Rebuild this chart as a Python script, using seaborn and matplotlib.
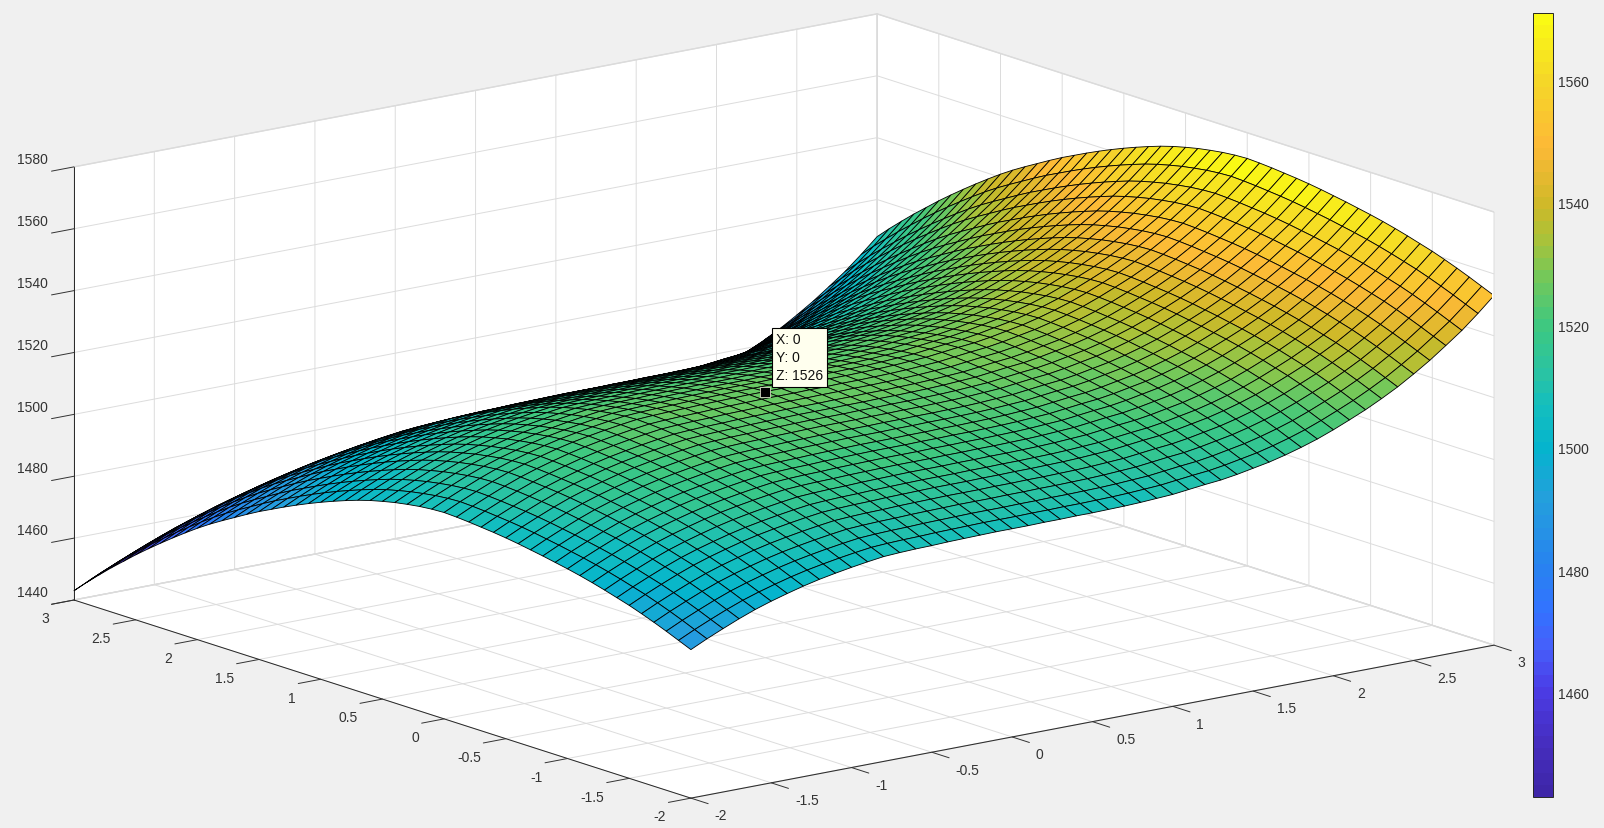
import numpy as np
import seaborn as sns
import matplotlib.pyplot as plt
from matplotlib.colors import LinearSegmentedColormap, Normalize
from matplotlib.cm import ScalarMappable
from mpl_toolkits.mplot3d import proj3d

# mesh nodes, one every 0.1
x_nodes = [-2.0, -1.9, -1.8, -1.7, -1.6, -1.5, -1.4, -1.3, -1.2, -1.1, -1.0, -0.9, -0.8, -0.7, -0.6, -0.5, -0.4,
           -0.3, -0.2, -0.1, 0.0, 0.1, 0.2, 0.3, 0.4, 0.5, 0.6, 0.7, 0.8, 0.9, 1.0, 1.1, 1.2, 1.3, 1.4, 1.5, 1.6,
           1.7, 1.8, 1.9, 2.0, 2.1, 2.2, 2.3, 2.4, 2.5, 2.6, 2.7, 2.8, 2.9, 3.0]
y_nodes = x_nodes

# z read along the front edge (y = -2), from x = -2 to x = 3
z_front_edge = [1488.0, 1490.5, 1492.8, 1495.0, 1497.0, 1498.7, 1500.2, 1501.6, 1502.8, 1503.8, 1504.7,
                1505.5, 1506.2, 1506.5, 1506.7, 1506.8, 1507.0, 1507.1, 1507.2, 1507.3, 1507.3,
                1507.3, 1507.4, 1507.4, 1507.5, 1507.5, 1507.6, 1507.7, 1507.9, 1508.2, 1508.5,
                1509.1, 1509.7, 1510.2, 1511.0, 1512.0, 1513.0, 1514.3, 1515.8, 1517.5, 1519.5,
                1521.7, 1524.0, 1526.6, 1529.4, 1532.6, 1536.0, 1539.8, 1543.7, 1548.2, 1553.0]
# z read along the left edge (x = -2), from y = -2 to y = 3
z_left_edge = [1488.0, 1489.7, 1491.4, 1493.0, 1494.5, 1495.9, 1497.1, 1498.3, 1499.4, 1500.4, 1501.3,
               1502.1, 1502.9, 1503.6, 1504.3, 1504.9, 1505.4, 1505.8, 1506.2, 1506.5, 1506.7,
               1506.5, 1506.1, 1505.5, 1504.8, 1503.9, 1502.9, 1501.7, 1500.3, 1498.8, 1497.2,
               1495.5, 1493.7, 1491.8, 1489.8, 1487.8, 1485.6, 1483.3, 1481.0, 1478.6, 1476.0,
               1473.2, 1470.3, 1467.3, 1464.2, 1461.0, 1457.6, 1454.2, 1450.6, 1446.9, 1443.0]

tick_xy = [-2, -1.5, -1, -0.5, 0, 0.5, 1, 1.5, 2, 2.5, 3]
tick_xy_labels = ["-2", "-1.5", "-1", "-0.5", "0", "0.5", "1", "1.5", "2", "2.5", "3"]
tick_z = [1440, 1460, 1480, 1500, 1520, 1540, 1560, 1580]
tick_bar = [1460, 1480, 1500, 1520, 1540, 1560]
z_min, z_max = 1443, 1571

W, H = 1604, 829

sns.set_theme(style="white")
plt.rcParams["font.family"] = ["Liberation Sans", "DejaVu Sans"]
plt.rcParams["axes.unicode_minus"] = False

# colours sampled from the colorbar of the picture
color_stops = [(0.0, (62, 38, 168)), (0.06, (70, 45, 190)), (0.133, (75, 60, 230)), (0.185, (70, 95, 250)),
               (0.236, (50, 115, 255)), (0.289, (40, 130, 240)), (0.38, (35, 160, 220)), (0.444, (5, 180, 205)),
               (0.5, (20, 190, 190)), (0.537, (40, 195, 165)), (0.6, (60, 200, 130)), (0.665, (115, 200, 90)),
               (0.71, (165, 195, 60)), (0.757, (205, 185, 40)), (0.835, (253, 185, 55)), (0.92, (245, 215, 40)),
               (1.0, (250, 250, 20))]
parula = LinearSegmentedColormap.from_list(
    "parula", [(t, tuple(v / 255 for v in c)) for t, c in color_stops], N=64)
norm = Normalize(z_min, z_max)

fig = plt.figure(figsize=(W / 100, H / 100), dpi=100, facecolor="#f0f0f0")
ax = fig.add_axes([0, 0, 1456 / W, 1456 / H], projection="3d", proj_type="ortho", computed_zorder=False)
ax.view_init(elev=14.32, azim=-127.6)
ax.set_box_aspect((1013.6, 1011, 447))
ax.set_xlim(-2, 3, view_margin=0)
ax.set_ylim(-2, 3, view_margin=0)
ax.set_zlim(1440, 1580, view_margin=0)
ax.patch.set_visible(False)

# the surface is the sum of the two edge profiles, that is how it looks in the picture
X, Y = np.meshgrid(x_nodes, y_nodes)
Z = np.add.outer(np.array(z_left_edge), np.array(z_front_edge)) - z_left_edge[0]
ax.plot_surface(X, Y, Z, cmap=parula, norm=norm, rstride=1, cstride=1, edgecolor="black",
                linewidth=0.6, shade=False, zorder=2)
ax.plot([0], [0], [1526], marker="s", ms=7, mfc="black", mec="#d8d8c8", mew=0.6, ls="none", zorder=3)

ax.set_xticks(tick_xy, tick_xy_labels)
ax.set_yticks(tick_xy, tick_xy_labels)
ax.set_zticks(tick_z, [str(v) for v in tick_z])
for axis in (ax.xaxis, ax.yaxis, ax.zaxis):
    axis.set_pane_color((1, 1, 1, 1))
    axis.pane.set_edgecolor("#d9d9d9")
    axis.line.set_color("#262626")
    axis.line.set_linewidth(0.7)
    axis._axinfo["grid"].update(color="#dcdcdc", linewidth=0.7)
    axis._axinfo["tick"].update(inward_factor=0.35, outward_factor=0, linewidth={True: 0.7, False: 0.7}, color="#262626")
ax.tick_params(axis="both", labelsize=10, colors="#333333")
ax.tick_params(axis="x", pad=13)
ax.tick_params(axis="y", pad=9)
ax.tick_params(axis="z", pad=2)
ax.zaxis.set_ticks_position("upper")
ax.zaxis.set_label_position("upper")
for axis, ha, va in ((ax.xaxis, "left", "bottom"), (ax.yaxis, "right", "center"), (ax.zaxis, "right", "bottom")):
    for tick in axis.get_major_ticks():
        tick.label1.set_ha(ha)
        tick.label1.set_va(va)


def corner_px(x, y, z):
    xp, yp, _ = proj3d.proj_transform(x, y, z, ax.get_proj())
    return ax.transData.transform((xp, yp))


# fit the box on the figure: left corner at (74, 601), right corner at (1494, 646)
span = corner_px(3, -2, 1440)[0] - corner_px(-2, 3, 1440)[0]
size = 1456 * 1420 / span
ax.set_position([0, 0, size / W, size / H])
left = corner_px(-2, 3, 1440)
ax.set_position([(74 - left[0]) / W, (H - 601 - left[1]) / H, size / W, size / H])

fig.text(776 / W, 1 - 333 / H, "X: 0\nY: 0\nZ: 1526", fontsize=10, color="#111111", va="top", ha="left",
         linespacing=1.38, zorder=5,
         bbox=dict(boxstyle="square,pad=0.3", fc="#ffffee", ec="black", lw=0.8))

cax = fig.add_axes([1533 / W, 1 - 798 / H, 20 / W, 784 / H])
cbar = fig.colorbar(ScalarMappable(norm=norm, cmap=parula), cax=cax, ticks=tick_bar)
cbar.ax.tick_params(labelsize=10, colors="#333333", length=6, width=0.7, direction="in", left=False, right=True)
cbar.outline.set_edgecolor("#262626")
cbar.outline.set_linewidth(0.7)

fig.savefig("out.png", dpi=100, facecolor=fig.get_facecolor())
